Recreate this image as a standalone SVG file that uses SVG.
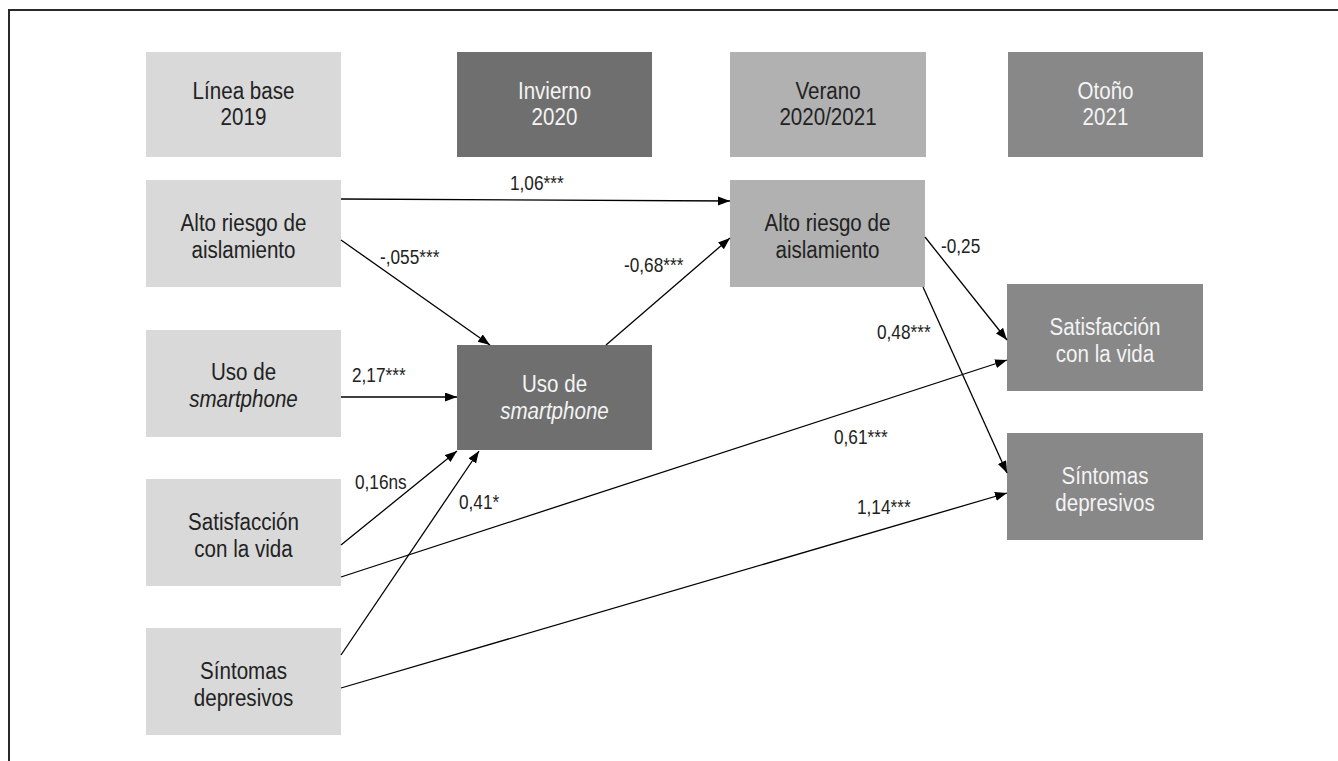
<svg xmlns="http://www.w3.org/2000/svg" width="1338" height="761" viewBox="0 0 1338 761">
<style>
.t{font-family:"Liberation Sans",Arial,sans-serif;font-size:24.5px;text-anchor:middle}
.d{fill:#222}
.w{fill:#f4f4f4}
.lab{font-family:"Liberation Sans",Arial,sans-serif;font-size:20.5px;fill:#222}
.c1{fill:#d9d9d9}
.c2{fill:#6f6f6f}
.c3{fill:#b1b1b1}
.c4{fill:#888888}
.e{stroke:#000;stroke-width:1.3;fill:none;marker-end:url(#ah)}
</style>
<defs>
<marker id="ah" markerUnits="userSpaceOnUse" markerWidth="13" markerHeight="11" refX="12" refY="4.5" orient="auto">
<path d="M0,0 L12,4.5 L0,9 z" fill="#000"/>
</marker>
</defs>
<rect width="1338" height="761" fill="#fff"/>
<path d="M9,761 V10 H1338" fill="none" stroke="#2a2a2a" stroke-width="2"/>

<g id="h1"><rect class="c1" x="146" y="52" width="195" height="105"/><text class="t d" transform="translate(243.5,99) scale(0.84,1)">Línea base</text><text class="t d" transform="translate(243.5,125) scale(0.84,1)">2019</text></g>
<g id="h2"><rect class="c2" x="457" y="52" width="195" height="105"/><text class="t w" transform="translate(554.5,99) scale(0.84,1)">Invierno</text><text class="t w" transform="translate(554.5,125) scale(0.84,1)">2020</text></g>
<g id="h3"><rect class="c3" x="730" y="52" width="196" height="105"/><text class="t d" transform="translate(828,99) scale(0.84,1)">Verano</text><text class="t d" transform="translate(828,125) scale(0.84,1)">2020/2021</text></g>
<g id="h4"><rect class="c4" x="1008" y="52" width="195" height="105"/><text class="t w" transform="translate(1105.5,99) scale(0.84,1)">Otoño</text><text class="t w" transform="translate(1105.5,125) scale(0.84,1)">2021</text></g>

<g id="n_riesgo19"><rect class="c1" x="146" y="180" width="195" height="107"/><text class="t d" transform="translate(243.5,231) scale(0.84,1)">Alto riesgo de</text><text class="t d" transform="translate(243.5,258) scale(0.84,1)">aislamiento</text></g>
<g id="n_uso19"><rect class="c1" x="146" y="330" width="195" height="107"/><text class="t d" transform="translate(243.5,380) scale(0.84,1)">Uso de</text><text class="t d" font-style="italic" transform="translate(243.5,407) scale(0.84,1)">smartphone</text></g>
<g id="n_satis19"><rect class="c1" x="146" y="479" width="195" height="107"/><text class="t d" transform="translate(243.5,530) scale(0.84,1)">Satisfacción</text><text class="t d" transform="translate(243.5,557) scale(0.84,1)">con la vida</text></g>
<g id="n_sint19"><rect class="c1" x="146" y="628" width="195" height="107"/><text class="t d" transform="translate(243.5,679) scale(0.84,1)">Síntomas</text><text class="t d" transform="translate(243.5,706) scale(0.84,1)">depresivos</text></g>

<g id="n_uso20"><rect class="c2" x="457" y="345" width="195" height="105"/><text class="t w" transform="translate(554.5,392) scale(0.84,1)">Uso de</text><text class="t w" font-style="italic" transform="translate(554.5,419) scale(0.84,1)">smartphone</text></g>
<g id="n_riesgo21"><rect class="c3" x="730" y="180" width="195" height="107"/><text class="t d" transform="translate(827.5,231) scale(0.84,1)">Alto riesgo de</text><text class="t d" transform="translate(827.5,258) scale(0.84,1)">aislamiento</text></g>
<g id="n_satis21"><rect class="c4" x="1007" y="284" width="196" height="107"/><text class="t w" transform="translate(1105,335) scale(0.84,1)">Satisfacción</text><text class="t w" transform="translate(1105,362) scale(0.84,1)">con la vida</text></g>
<g id="n_sint21"><rect class="c4" x="1007" y="433" width="196" height="107"/><text class="t w" transform="translate(1105,484) scale(0.84,1)">Síntomas</text><text class="t w" transform="translate(1105,511) scale(0.84,1)">depresivos</text></g>

<g id="connectors">
<line class="e" x1="341" y1="199" x2="730" y2="201"/>
<line class="e" x1="341" y1="240" x2="490" y2="345"/>
<line class="e" x1="341" y1="397" x2="457" y2="397"/>
<line class="e" x1="341" y1="545" x2="457" y2="451"/>
<line class="e" x1="341" y1="655" x2="479" y2="451"/>
<line class="e" x1="341" y1="577" x2="1007" y2="360"/>
<line class="e" x1="341" y1="688" x2="1007" y2="493"/>
<line class="e" x1="606" y1="345" x2="730" y2="238"/>
<line class="e" x1="925" y1="237" x2="1007" y2="340"/>
<line class="e" x1="923" y1="287" x2="1007" y2="473"/>
<text class="lab" transform="translate(510,190) scale(0.84,1)">1,06***</text>
<text class="lab" transform="translate(380,264) scale(0.84,1)">-,055***</text>
<text class="lab" transform="translate(352,382) scale(0.84,1)">2,17***</text>
<text class="lab" transform="translate(624,272) scale(0.84,1)">-0,68***</text>
<text class="lab" transform="translate(941,253) scale(0.84,1)">-0,25</text>
<text class="lab" transform="translate(877,339) scale(0.84,1)">0,48***</text>
<text class="lab" transform="translate(834,444) scale(0.84,1)">0,61***</text>
<text class="lab" transform="translate(857,514) scale(0.84,1)">1,14***</text>
<text class="lab" transform="translate(355,489) scale(0.84,1)">0,16ns</text>
<text class="lab" transform="translate(459,509) scale(0.84,1)">0,41*</text>
</g>
</svg>
